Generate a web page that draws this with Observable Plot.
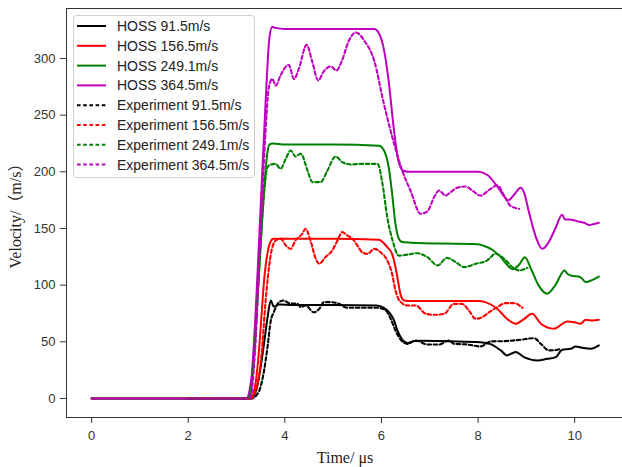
<!DOCTYPE html>
<html>
<head>
<meta charset="utf-8">
<script src="https://cdn.jsdelivr.net/npm/d3@7"></script>
<script src="https://cdn.jsdelivr.net/npm/@observablehq/plot@0.6"></script>
<style>
  html, body { margin: 0; padding: 0; background: #fff; }
  #chart { width: 622px; height: 467px; overflow: hidden; }
</style>
</head>
<body>
<div id="chart"></div>
<script>
// ---------- data ----------
const seriesNames = ["HOSS 91.5m/s", "HOSS 156.5m/s", "HOSS 249.1m/s", "HOSS 364.5m/s",
  "Experiment 91.5m/s", "Experiment 156.5m/s", "Experiment 249.1m/s", "Experiment 364.5m/s"];
const seriesColors = ["#000000", "#ff0000", "#008000", "#bf00bf",
  "#000000", "#ff0000", "#008000", "#bf00bf"];
const seriesDashed = [false, false, false, false, true, true, true, true];

const xTicks = [0, 2, 4, 6, 8, 10];
const yTicks = [0, 50, 100, 150, 200, 250, 300];
const xDomain = [-0.52, 10.99];
const yDomain = [-16.8, 344.1];

const hoss915T = [0, 3.3, 3.4, 3.5, 3.58, 3.65, 3.71, 3.77, 3.88, 4.2, 5.0, 5.9, 6.05, 6.16, 6.26, 6.33, 6.43, 6.54, 6.67, 6.81, 7.4, 8.05, 8.26, 8.47, 8.6, 8.78, 8.95, 9.23, 9.43, 9.61, 9.74, 9.92, 10.02, 10.16, 10.33, 10.5];
const hoss915V = [0, 0, 6, 28, 52, 74, 86.5, 81, 83, 82.5, 82.5, 82, 80, 76, 69, 60, 52, 49, 50.6, 51, 50.5, 49.7, 48, 42.4, 38, 41, 36.5, 33.5, 35, 36.5, 43, 43.8, 45.9, 44.7, 43.8, 46.8];

const hoss1565T = [0, 3.28, 3.38, 3.46, 3.52, 3.57, 3.64, 3.7, 3.76, 4, 5, 5.95, 6.05, 6.13, 6.22, 6.28, 6.33, 6.4, 6.47, 6.6, 8.0, 8.15, 8.4, 8.6, 8.78, 8.95, 9.12, 9.3, 9.57, 9.85, 9.99, 10.12, 10.23, 10.37, 10.5];
const hoss1565V = [0, 0, 10, 40, 75, 104, 128, 138, 141, 141, 141, 140, 137, 133, 127.6, 118, 107, 91, 86.5, 86, 86, 85, 79, 70.3, 65.9, 70, 74.7, 65.9, 61.5, 68, 67.3, 66, 69.4, 68.8, 69.4];

const hoss2491T = [0, 3.22, 3.3, 3.38, 3.45, 3.52, 3.58, 3.63, 3.68, 3.75, 4, 5, 5.95, 6.05, 6.15, 6.22, 6.29, 6.35, 6.43, 6.6, 8.0, 8.1, 8.3, 8.47, 8.6, 8.71, 8.85, 8.97, 9.1, 9.25, 9.43, 9.6, 9.79, 9.85, 9.92, 10.12, 10.23, 10.37, 10.5];
const hoss2491V = [0, 0, 12, 50, 100, 150, 190, 214, 224, 225, 224, 224, 223, 219, 204, 181, 154, 142, 138, 137.5, 136, 135, 131, 124.7, 118, 114, 118, 124.7, 114, 100, 92.4, 100, 113, 110, 108.5, 107, 102.6, 104.7, 107.6];

const hoss3645T = [0, 3.2, 3.3, 3.4, 3.5, 3.6, 3.68, 3.74, 3.8, 4, 5, 5.85, 5.95, 6.05, 6.15, 6.25, 6.35, 6.45, 6.6, 8.0, 8.2, 8.4, 8.63, 8.75, 8.88, 8.95, 9.05, 9.2, 9.33, 9.45, 9.6, 9.74, 9.8, 9.9, 10.0, 10.1, 10.2, 10.3, 10.4, 10.5];
const hoss3645V = [0, 0, 15, 80, 170, 260, 318, 328, 327, 326, 326, 326, 322, 308, 280, 240, 210, 201, 200, 200, 197, 187, 175, 180, 186, 182, 165, 142, 132, 137, 150, 162, 158, 158, 157, 156, 155, 153, 154, 155];

const exp915T = [2, 3.3, 3.45, 3.55, 3.64, 3.71, 3.77, 3.88, 3.98, 4.09, 4.26, 4.33, 4.43, 4.6, 4.71, 4.81, 4.95, 5.12, 5.29, 5.57, 5.92, 6.09, 6.19, 6.29, 6.4, 6.54, 6.71, 6.95, 7.19, 7.4, 7.5, 7.78, 8.05, 8.26, 8.54, 8.88, 9.16, 9.3, 9.47, 9.64, 9.71];
const exp915V = [0, 0, 5, 20, 45, 68.8, 76, 85, 86.5, 84, 83.5, 80.6, 82, 76, 79, 85, 85, 83.5, 80, 80, 80, 77.6, 70.3, 60, 51.8, 48.2, 51.2, 47.6, 47.6, 51.2, 48.2, 47.6, 45.9, 50.3, 50.6, 51.8, 53.2, 48.2, 42.4, 43, 43.8];

const exp1565T = [2, 3.3, 3.42, 3.52, 3.6, 3.7, 3.81, 3.91, 4.02, 4.12, 4.22, 4.36, 4.43, 4.53, 4.64, 4.71, 4.84, 4.98, 5.09, 5.19, 5.29, 5.4, 5.5, 5.6, 5.71, 5.85, 5.98, 6.12, 6.22, 6.29, 6.4, 6.54, 6.71, 6.92, 7.09, 7.3, 7.5, 7.67, 7.81, 7.95, 8.09, 8.23, 8.4, 8.57, 8.74, 8.92];
const exp1565V = [0, 0, 10, 40, 85, 124.7, 139.4, 141, 135, 132, 139.4, 145.3, 149.7, 139.4, 123.3, 118.9, 124.7, 130.6, 139.4, 146.8, 143.8, 141, 135, 129, 127.6, 132, 129, 121.8, 110, 95.3, 85, 82, 82, 74.7, 73.8, 74.7, 83.5, 83.5, 77.6, 70.3, 71.8, 76.2, 80.6, 84.1, 84.1, 80];

const exp2491T = [2, 3.25, 3.35, 3.45, 3.55, 3.64, 3.71, 3.81, 3.91, 4.02, 4.12, 4.22, 4.33, 4.47, 4.57, 4.74, 4.88, 5.05, 5.19, 5.36, 5.57, 5.85, 5.92, 6.02, 6.12, 6.23, 6.36, 6.54, 6.74, 6.95, 7.16, 7.36, 7.54, 7.71, 7.95, 8.19, 8.36, 8.54, 8.71, 8.85, 9.02];
const exp2491V = [0, 0, 30, 100, 170, 204, 206.5, 207, 202.7, 211.5, 218.8, 213.5, 216, 201, 190.9, 190.9, 201, 213.5, 208.5, 206.5, 207, 207, 207, 189.7, 160, 139.4, 126, 127, 128.2, 124.7, 117.4, 124, 120.3, 115.9, 118.8, 121.8, 127.7, 123.3, 115.9, 113, 115.3];

const exp3645T = [2, 3.28, 3.38, 3.48, 3.58, 3.67, 3.74, 3.81, 3.91, 4.08, 4.19, 4.29, 4.45, 4.57, 4.69, 4.81, 4.95, 5.07, 5.17, 5.33, 5.47, 5.64, 5.85, 6.05, 6.26, 6.43, 6.6, 6.81, 6.95, 7.09, 7.19, 7.33, 7.43, 7.57, 7.74, 7.88, 8.05, 8.23, 8.4, 8.54, 8.67, 8.85];
const exp3645V = [0, 0, 40, 130, 220, 274.7, 282, 276, 285, 294.4, 282, 291, 312, 296.8, 280.6, 288.8, 293, 289.4, 296.8, 316, 323, 316, 298, 260, 225, 201, 183.5, 163, 165, 177.6, 183.5, 179, 182, 186, 187, 183.5, 179, 184, 188, 179, 170, 167.4];

const seriesT = [hoss915T, hoss1565T, hoss2491T, hoss3645T, exp915T, exp1565T, exp2491T, exp3645T];
const seriesV = [hoss915V, hoss1565V, hoss2491V, hoss3645V, exp915V, exp1565V, exp2491V, exp3645V];

// ---------- build ----------
const DASH = "3.6,2.6";
const lineMarks = seriesNames.map((name, i) => {
  const rows = seriesT[i].map((t, j) => ({t, v: seriesV[i][j], name}));
  return Plot.line(rows, {
    x: "t", y: "v",
    stroke: seriesColors[i],
    strokeWidth: seriesDashed[i] ? 2.1 : 2,
    strokeDasharray: seriesDashed[i] ? DASH : null,
    curve: "monotone-x"
  });
});

const chart = Plot.plot({
  width: 622,
  height: 467,
  marginLeft: 66,
  marginRight: 0,
  marginTop: 8,
  marginBottom: 50,
  style: {fontFamily: "'Liberation Sans', Arial, sans-serif", fontSize: "13px", color: "#333", background: "#fff"},
  x: {domain: xDomain, ticks: xTicks, tickSize: 6, tickPadding: 7, label: null},
  y: {domain: yDomain, ticks: yTicks, tickSize: 6, tickPadding: 5, label: null},
  marks: [
    ...lineMarks,
    Plot.ruleX([xDomain[0]], {stroke: "#333", strokeWidth: 1}),
    Plot.ruleY([yDomain[0], yDomain[1]], {stroke: "#333", strokeWidth: 1})
  ]
});
document.getElementById("chart").appendChild(chart);

// ---------- axis titles and legend ----------
const svg = d3.select(chart);
svg.append("text")
  .attr("x", 345).attr("y", 463)
  .attr("text-anchor", "middle")
  .style("font-family", "'Liberation Serif', 'Times New Roman', serif")
  .style("font-size", "16px").attr("fill", "#222")
  .text("Time/ μs");
svg.append("text")
  .attr("transform", "translate(21,212) rotate(-90)")
  .attr("text-anchor", "middle")
  .style("font-family", "'Liberation Serif', 'Times New Roman', 'Noto Sans CJK SC', serif")
  .style("font-size", "16px").attr("fill", "#222")
  .text("Velocity/（m/s）");

const lg = svg.append("g").attr("text-anchor", "start");
lg.append("rect")
  .attr("x", 73.5).attr("y", 15.5).attr("width", 181).attr("height", 162)
  .attr("rx", 3).attr("fill", "#fff").attr("fill-opacity", 0.85)
  .attr("stroke", "#d0d0d0").attr("stroke-width", 1);
seriesNames.forEach((name, i) => {
  const y = 26 + i * 19.8;
  lg.append("line")
    .attr("x1", 77).attr("x2", 106).attr("y1", y).attr("y2", y)
    .attr("stroke", seriesColors[i]).attr("stroke-width", 2)
    .attr("stroke-dasharray", seriesDashed[i] ? DASH : null);
  lg.append("text")
    .attr("x", 117).attr("y", y).attr("dy", "0.35em")
    .attr("text-anchor", "start")
    .style("font-family", "'Liberation Sans', Arial, sans-serif")
    .style("font-size", "14px").attr("fill", "#222")
    .text(name);
});
</script>
</body>
</html>
